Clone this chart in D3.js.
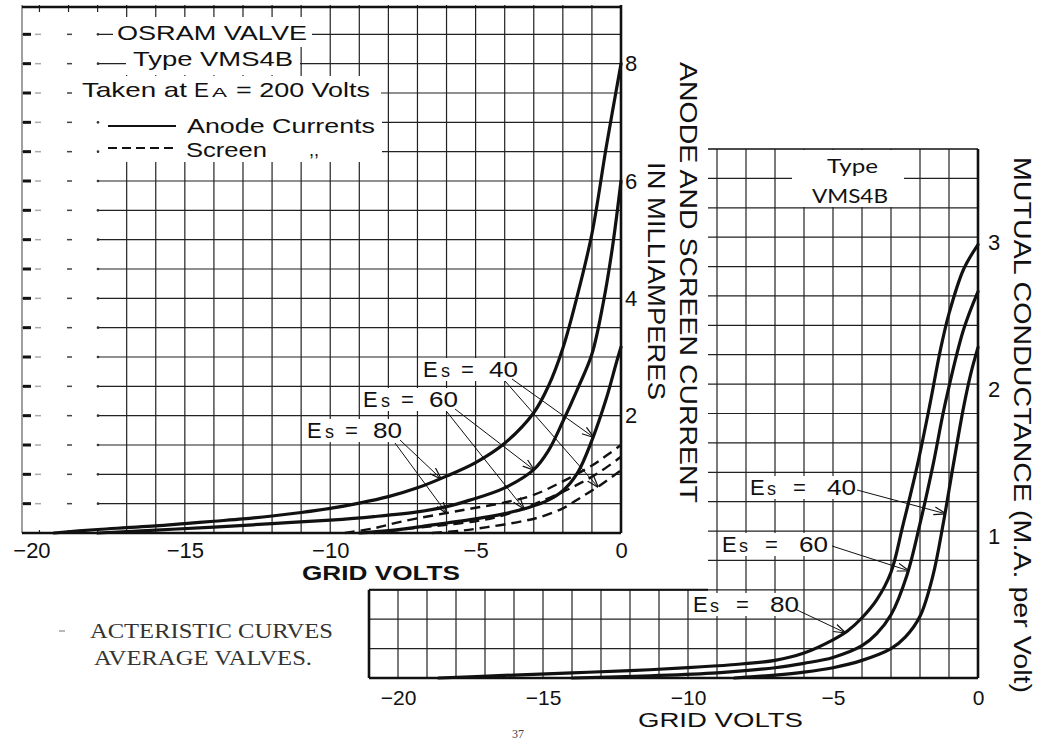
<!DOCTYPE html>
<html><head><meta charset="utf-8">
<script src="https://cdnjs.cloudflare.com/ajax/libs/d3/7.8.5/d3.min.js"></script>
<style>body{margin:0;background:#fff}svg{display:block}</style>
</head><body><svg id="c" width="1049" height="745"></svg>
<script>
// ---------- DATA (grid volts, milliamperes / mA per volt) ----------
const anodeEs80 = [[-19.5,0],[-18,0.06],[-17,0.09],[-16,0.12],[-15,0.16],[-14,0.2],[-13,0.24],[-12,0.29],[-11,0.35],[-10,0.42],[-9,0.51],[-8,0.62],[-7,0.77],[-6,0.97],[-5,1.2],[-4,1.53],[-3,2.05],[-2.5,2.5],[-2,3.15],[-1.5,4.05],[-1,5.1],[-0.5,6.6],[0,8.0]];
const anodeEs60 = [[-18,0],[-16,0.05],[-14,0.1],[-12,0.16],[-10,0.22],[-8.5,0.28],[-7,0.36],[-6,0.45],[-5.2,0.56],[-4,0.77],[-3,1.08],[-2.5,1.4],[-2,1.9],[-1.5,2.45],[-1,3.05],[-0.6,3.95],[-0.3,4.85],[0,6.0]];
const anodeEs40 = [[-9,0],[-8,0.04],[-7,0.1],[-6,0.17],[-5,0.24],[-4,0.33],[-3.2,0.43],[-2.5,0.56],[-2,0.72],[-1.5,1.02],[-1,1.58],[-0.5,2.3],[-0.15,2.92],[0,3.17]];
const screenEs80 = [[-9.5,0],[-8.5,0.08],[-7.5,0.2],[-6,0.34],[-5,0.43],[-4,0.52],[-3,0.65],[-2,0.88],[-1,1.15],[-0.5,1.32],[0,1.5]];
const screenEs60 = [[-8.5,0],[-7,0.09],[-6,0.14],[-5,0.2],[-4.3,0.27],[-3.5,0.39],[-2.8,0.53],[-2,0.7],[-1.4,0.85],[-0.7,1.05],[0,1.3]];
const screenEs40 = [[-6.5,0],[-5.5,0.04],[-4.6,0.1],[-3.5,0.19],[-2.8,0.27],[-2,0.42],[-1.4,0.6],[-0.7,0.82],[0,1.07]];
const gmEs80 = [[-18.6,0],[-16,0.02],[-14,0.035],[-12,0.05],[-10,0.07],[-8.5,0.09],[-7,0.12],[-6,0.17],[-5,0.26],[-4.5,0.32],[-4,0.41],[-3.5,0.53],[-3,0.72],[-2.6,1.03],[-2.1,1.44],[-1.66,1.86],[-1.3,2.23],[-1,2.48],[-0.5,2.78],[0,2.95]];
const gmEs60 = [[-14,0],[-11.3,0.015],[-9,0.035],[-7,0.07],[-6,0.1],[-5,0.14],[-4,0.22],[-3.5,0.3],[-3,0.43],[-2.45,0.7],[-2,1.05],[-1.55,1.45],[-1.14,1.86],[-0.5,2.37],[0,2.63]];
const gmEs40 = [[-8.4,0],[-7,0.02],[-6,0.04],[-5,0.07],[-4,0.12],[-3,0.2],[-2.5,0.28],[-2,0.42],[-1.55,0.7],[-1.2,1.05],[-0.86,1.44],[-0.5,1.84],[-0.25,2.07],[0,2.25]];
const leftXTicks = [-20,-15,-10,-5,0];
const leftYTicks = [2,4,6,8];
const rightXTicks = [-20,-15,-10,-5,0];
const rightYTicks = [1,2,3];

// ---------- SCALES ----------
const xL = d3.scaleLinear().domain([-20.6,0]).range([22,621]);
const yL = d3.scaleLinear().domain([0,9]).range([533,5]);
const xR = d3.scaleLinear().domain([-21,0]).range([369,978]);
const yR = d3.scaleLinear().domain([0,3.6]).range([678,149]);

const svg = d3.select('#c');
const SANS = "'Liberation Sans', Arial, sans-serif";
const INK = '#111';
function interp(data, v){
  for(let i=1;i<data.length;i++){
    if(v<=data[i][0]){const a=data[i-1],b=data[i];const t=(v-a[0])/(b[0]-a[0]);return a[1]+t*(b[1]-a[1]);}
  }
  return data[data.length-1][1];
}
const defs = svg.append('defs');
defs.append('marker').attr('id','ah').attr('viewBox','0 -5 12 10').attr('refX',11).attr('refY',0)
  .attr('markerWidth',12).attr('markerHeight',10).attr('markerUnits','userSpaceOnUse').attr('orient','auto')
  .append('path').attr('d','M0,-4L12,0L0,4').attr('fill','none').attr('stroke',INK).attr('stroke-width',1.2);
defs.append('clipPath').attr('id','rclip').append('path')
  .attr('d','M708,148L979,148L979,679L368,679L368,590L708,590Z');

// ---------- RIGHT CHART GRID ----------
const rg = svg.append('g').attr('clip-path','url(#rclip)');
rg.selectAll('.rv').data(d3.range(-20,0)).join('line')
  .attr('x1',d=>xR(d)).attr('x2',d=>xR(d)).attr('y1',yR(3.6)).attr('y2',yR(0))
  .attr('stroke','#222').attr('stroke-width',1.2);
rg.selectAll('.rh').data(d3.range(1,18).map(i=>i*0.2)).join('line')
  .attr('x1',xR(-21)).attr('x2',xR(0)).attr('y1',d=>yR(d)).attr('y2',d=>yR(d))
  .attr('stroke','#222').attr('stroke-width',1.2);
svg.append('rect').attr('x',792).attr('y',150).attr('width',112).attr('height',57).attr('fill','#fff');

// right frame
const rf = svg.append('g').attr('stroke',INK).attr('fill','none');
rf.append('line').attr('x1',708).attr('x2',xR(0)).attr('y1',yR(3.6)).attr('y2',yR(3.6)).attr('stroke-width',1.6);
rf.append('line').attr('x1',xR(0)).attr('x2',xR(0)).attr('y1',yR(3.6)).attr('y2',yR(0)).attr('stroke-width',2.6);
rf.append('line').attr('x1',xR(-21)).attr('x2',xR(0)).attr('y1',yR(0)).attr('y2',yR(0)).attr('stroke-width',2.6);
rf.append('line').attr('x1',xR(-21)).attr('x2',xR(-21)).attr('y1',yR(0.6)).attr('y2',yR(0)).attr('stroke-width',2.6);
rf.append('line').attr('x1',xR(-21)).attr('x2',708).attr('y1',yR(0.6)).attr('y2',yR(0.6)).attr('stroke-width',2);

// ---------- LEFT CHART GRID ----------
const lg = svg.append('g');
lg.selectAll('.lv').data(d3.range(-20,0)).join('line')
  .attr('x1',d=>xL(d)).attr('x2',d=>xL(d)).attr('y1',yL(9)).attr('y2',yL(0))
  .attr('stroke','#222').attr('stroke-width',1.2);
lg.selectAll('.lh').data(d3.range(1,18).map(i=>i*0.5)).join('line')
  .attr('x1',xL(-20.6)).attr('x2',xL(0)).attr('y1',d=>yL(d)).attr('y2',d=>yL(d))
  .attr('stroke','#222').attr('stroke-width',1.2);

const wr = [[23,12,76,518],[113,17,199,30],[126,47,174,28],[76,76,305,29],[99,105,283,57]];
svg.selectAll('.wr').data(wr).join('rect').attr('x',d=>d[0]).attr('y',d=>d[1]).attr('width',d=>d[2]).attr('height',d=>d[3]).attr('fill','#fff');
const lt = svg.append('g');
d3.range(1,18).map(i=>i*0.5).forEach(v=>{
  const y=yL(v);
  lt.append('line').attr('x1',23).attr('x2',31).attr('y1',y).attr('y2',y).attr('stroke',INK).attr('stroke-width',3);
  lt.append('line').attr('x1',35).attr('x2',41).attr('y1',y).attr('y2',y).attr('stroke','#aaa').attr('stroke-width',1.5);
  lt.append('line').attr('x1',67).attr('x2',72).attr('y1',y).attr('y2',y).attr('stroke','#444').attr('stroke-width',1.5);
  lt.append('circle').attr('cx',98).attr('cy',y).attr('r',1.3).attr('fill','#333');
});

// left frame
const lf = svg.append('g').attr('stroke',INK);
lf.append('line').attr('x1',22).attr('x2',22).attr('y1',yL(9)).attr('y2',yL(0)).attr('stroke','#777').attr('stroke-width',1.4);
lf.append('line').attr('x1',22).attr('x2',xL(0)).attr('y1',yL(9)+2).attr('y2',yL(9)+2).attr('stroke-width',2.6);
lf.append('line').attr('x1',xL(0)).attr('x2',xL(0)).attr('y1',yL(9)).attr('y2',yL(0)).attr('stroke-width',2.6);
lf.append('line').attr('x1',22).attr('x2',xL(0)).attr('y1',yL(0)).attr('y2',yL(0)).attr('stroke-width',2.4);

// ---------- LABEL BACKGROUNDS ----------
const esLeft = [{n:'40',x:423,b:377,curve:anodeEs40,v:-0.96,scr:screenEs40,sv:-0.8,a1:[512,379],a2:[505,381]},
                {n:'60',x:363,b:407,curve:anodeEs60,v:-3.0,scr:screenEs60,sv:-3.35,a1:[455,409],a2:[447,412]},
                {n:'80',x:307,b:438,curve:anodeEs80,v:-6.2,scr:screenEs80,sv:-6.0,a1:[400,440],a2:[395,443]}];
const esRight = [{n:'40',x:750,b:495,curve:gmEs40,v:-1.14,a1:[857,490]},
                 {n:'60',x:722,b:552,curve:gmEs60,v:-2.41,a1:[832,546]},
                 {n:'80',x:693,b:612,curve:gmEs80,v:-4.59,a1:[795,609]}];
esLeft.forEach(d=>svg.append('rect').attr('x',d.x-3).attr('y',d.b-19).attr('width',100).attr('height',23).attr('fill','#fff'));
esRight.forEach(d=>svg.append('rect').attr('x',d.x-3).attr('y',d.b-19).attr('width',112).attr('height',23).attr('fill','#fff'));

// ---------- CURVES ----------
const smooth = d3.curveCatmullRom.alpha(0.5);
const lineL = d3.line().x(d=>xL(d[0])).y(d=>yL(d[1])).curve(smooth);
const lineR = d3.line().x(d=>xR(d[0])).y(d=>yR(d[1])).curve(smooth);
[anodeEs80,anodeEs60,anodeEs40].forEach(a=>svg.append('path').attr('d',lineL(a)).attr('fill','none').attr('stroke',INK).attr('stroke-width',3.2).attr('stroke-linecap','round'));
[screenEs80,screenEs60,screenEs40].forEach(a=>svg.append('path').attr('d',lineL(a)).attr('fill','none').attr('stroke',INK).attr('stroke-width',2.4).attr('stroke-dasharray','10,6'));
[gmEs80,gmEs60,gmEs40].forEach(a=>svg.append('path').attr('d',lineR(a)).attr('fill','none').attr('stroke',INK).attr('stroke-width',3.2).attr('stroke-linecap','round'));

// ---------- ARROWS ----------
function arrow(p, x, y){
  svg.append('line').attr('x1',p[0]).attr('y1',p[1]).attr('x2',x).attr('y2',y)
    .attr('stroke',INK).attr('stroke-width',1).attr('marker-end','url(#ah)');
}
esLeft.forEach(d=>{
  arrow(d.a1, xL(d.v), yL(interp(d.curve,d.v)));
  arrow(d.a2, xL(d.sv), yL(interp(d.scr,d.sv)));
});
esRight.forEach(d=>arrow(d.a1, xR(d.v), yR(interp(d.curve,d.v))));

// ---------- Es LABELS ----------
function esLabel(d, offs){
  const g = svg.append('g').attr('fill',INK).attr('font-family',SANS);
  g.append('text').attr('x',d.x).attr('y',d.b).attr('font-size',22).text('E');
  g.append('text').attr('x',d.x+offs[0]).attr('y',d.b).attr('font-size',18).text('s');
  g.append('text').attr('x',d.x+offs[1]).attr('y',d.b).attr('font-size',22).text('=');
  g.append('text').attr('x',d.x+offs[2]).attr('y',d.b).attr('font-size',22).attr('textLength',29).attr('lengthAdjust','spacingAndGlyphs').text(d.n);
}
esLeft.forEach(d=>esLabel(d,[18,38,66]));
esRight.forEach(d=>esLabel(d,[17,43,77]));

// ---------- AXES ----------
const fmt = d=> d<0 ? '\u2212'+(-d) : String(d);
function styleAxis(g, fs){
  g.select('.domain').remove();
  g.selectAll('text').attr('font-family',SANS).attr('font-size',fs).attr('fill',INK);
}
svg.append('g').attr('transform',`translate(0,${yL(0)})`)
  .call(d3.axisBottom(xL).tickValues(leftXTicks).tickSize(0).tickPadding(9).tickFormat(fmt))
  .call(g=>{styleAxis(g,22); g.selectAll('text').filter(d=>d===-20).attr('dx',-8);});
svg.append('g').attr('transform',`translate(${xL(0)},0)`)
  .call(d3.axisRight(yL).tickValues(leftYTicks).tickSize(0).tickPadding(4).tickFormat(fmt))
  .call(g=>styleAxis(g,22));
svg.append('g').attr('transform',`translate(0,${yR(0)})`)
  .call(d3.axisBottom(xR).tickValues(rightXTicks).tickSize(0).tickPadding(12).tickFormat(fmt))
  .call(g=>styleAxis(g,21));
svg.append('g').attr('transform',`translate(${xR(0)},0)`)
  .call(d3.axisRight(yR).tickValues(rightYTicks).tickSize(0).tickPadding(10).tickFormat(fmt))
  .call(g=>{styleAxis(g,22); g.selectAll('text').attr('dy','0.55em');});

// ---------- TEXTS ----------
function txt(x,y,s,fs,len,opts={}){
  const t = svg.append('text').attr('x',x).attr('y',y).attr('font-family',opts.family||SANS)
    .attr('font-size',fs).attr('fill',opts.fill||INK).text(s);
  if(opts.weight) t.attr('font-weight',opts.weight);
  if(len) t.attr('textLength',len).attr('lengthAdjust','spacingAndGlyphs');
  if(opts.rot) t.attr('transform',`rotate(90,${x},${y})`);
  return t;
}
txt(117,40,'OSRAM  VALVE',21,190);
txt(133,66,'Type  VMS4B',21,160);
txt(82,97,'Taken  at',21,105);
txt(194,97,'E',21,15);
txt(212,97,'A',13,15);
txt(236,97,'= 200 Volts',21,134);
svg.append('line').attr('x1',108).attr('x2',176).attr('y1',126).attr('y2',126).attr('stroke',INK).attr('stroke-width',2);
txt(187,133,'Anode Currents',21,188);
svg.append('line').attr('x1',108).attr('x2',178).attr('y1',148).attr('y2',148).attr('stroke',INK).attr('stroke-width',2).attr('stroke-dasharray','9,5');
txt(186,157,'Screen',21,81);
txt(309,156,',,',18,null);
txt(827,173,'Type',19,51,{family:"Lato, 'Open Sans', sans-serif"});
txt(812,203,'VMS4B',19,76,{family:"Lato, 'Open Sans', sans-serif"});
txt(302,580,'GRID  VOLTS',21,158,{weight:'bold'});
txt(638,727,'GRID  VOLTS',20,165);
txt(680,62,'ANODE  AND  SCREEN  CURRENT',23,441,{rot:true});
txt(648,162,'IN  MILLIAMPERES',23,238,{rot:true});
txt(1014,157,'MUTUAL  CONDUCTANCE  (M.A.  per  Volt)',23,536,{rot:true});
svg.append('line').attr('x1',59).attr('x2',65).attr('y1',631).attr('y2',631).attr('stroke','#888').attr('stroke-width',1.2);
txt(90,638,'ACTERISTIC  CURVES',21,243,{family:"'Liberation Serif', 'DejaVu Serif', serif",fill:'#333'});
txt(94,665,'AVERAGE  VALVES.',21,218,{family:"'Liberation Serif', 'DejaVu Serif', serif",fill:'#333'});
txt(512,738,'37',12,null,{family:"'Liberation Serif', serif",fill:'#444'});
</script></body></html>
